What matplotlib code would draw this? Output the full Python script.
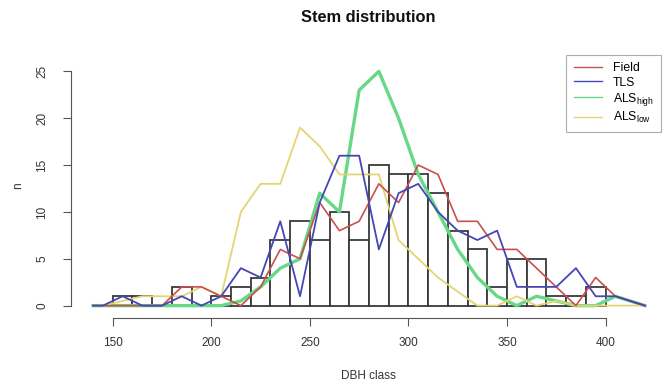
import numpy as np
import matplotlib.pyplot as plt

plt.rcParams['font.family'] = ['Liberation Sans', 'DejaVu Sans']
plt.rcParams['mathtext.fontset'] = 'custom'
plt.rcParams['mathtext.rm'] = 'Liberation Sans'

# histogram of stems, 10 cm DBH classes
bin_left = [150, 160, 170, 180, 190, 200, 210, 220, 230, 240, 250, 260, 270,
            280, 290, 300, 310, 320, 330, 340, 350, 360, 370, 380, 390]
stem_counts = [1, 1, 0, 2, 0, 1, 2, 3, 7, 9, 7, 10, 7,
               15, 14, 14, 12, 8, 6, 2, 5, 5, 1, 1, 2]

# class mid points for the frequency lines (ends closed at 140 / 420)
dbh_mid = [140, 145, 155, 165, 175, 185, 195, 205, 215, 225, 235, 245, 255, 265, 275,
           285, 295, 305, 315, 325, 335, 345, 355, 365, 375, 385, 395, 405, 420]
field = [0, 0, 0, 0, 0, 2, 2, 1, 0, 2, 6, 5, 11, 8, 9,
         13, 11, 15, 14, 9, 9, 6, 6, 4, 2, 0, 3, 1, 0]
tls = [0, 0, 1, 0, 0, 1, 0, 1, 4, 3, 9, 1, 11, 16, 16,
       6, 12, 13, 10, 8, 7, 8, 2, 2, 2, 4, 1, 1, 0]
als_high = [0, 0, 0, 0, 0, 0, 0, 0, 0.5, 2, 4, 5, 12, 10, 23,
            25, 20, 14, 10, 6, 3, 1, 0, 1, 0.5, 0, 0, 1, 0]
als_low = [0, 0, 0.5, 1, 1, 1, 2, 1, 10, 13, 13, 19, 17, 14, 14,
           14, 7, 5, 3, 1.5, 0, 0, 1, 0, 0.5, 0, 0, 0, 0]


def main():
    W, H = 663, 384
    fig = plt.figure(figsize=(W / 100, H / 100), dpi=100)
    # plot region in pixels: x 71..667 (runs just past the right edge), y 62..315
    ax = fig.add_axes([71 / W, 1 - 315 / H, (667 - 71) / W, (315 - 62) / H])
    ax.set_xlim(128.8, 431.2)
    ax.set_ylim(-1, 26)

    ax.bar(bin_left, stem_counts, width=10, align='edge', color='white',
           edgecolor='#3a3a3a', linewidth=1.3, zorder=1)

    ax.plot(dbh_mid, field, color='#c8504e', lw=1.2, label='Field', zorder=3)
    ax.plot(dbh_mid, tls, color='#4646b4', lw=1.3, label='TLS', zorder=3)
    ax.plot(dbh_mid, als_high, color='#66d886', lw=2.4, label='ALS$_{\\mathregular{high}}$', zorder=2)
    ax.plot(dbh_mid, als_low, color='#e4d474', lw=1.3, label='ALS$_{\\mathregular{low}}$', zorder=2)

    for s in ['top', 'right']:
        ax.spines[s].set_visible(False)
    ax.spines['bottom'].set_bounds(150, 400)
    ax.spines['left'].set_bounds(0, 25)
    ax.spines['bottom'].set_position(('outward', 2))
    for s in ['bottom', 'left']:
        ax.spines[s].set_color('#555555')
        ax.spines[s].set_linewidth(0.8)

    ax.set_xticks([150, 200, 250, 300, 350, 400])
    ax.set_yticks([0, 5, 10, 15, 20, 25])
    ax.tick_params(axis='both', colors='#555555', length=5.5, width=0.8,
                   labelsize=8.5, labelcolor='#333333')
    ax.tick_params(axis='x', pad=8)
    ax.tick_params(axis='y', pad=11, labelrotation=90)
    for lab in ax.get_yticklabels():
        lab.set_verticalalignment('center')

    fig.text(368 / W, 1 - 18 / H, 'Stem distribution', ha='center', va='center',
             fontsize=11.8, fontweight='bold', color='#111111')
    fig.text(368 / W, 1 - 376 / H, 'DBH class', ha='center', va='center',
             fontsize=8.5, color='#333333')
    fig.text(18 / W, 1 - 186 / H, 'n', ha='center', va='center', rotation=90,
             fontsize=8.5, color='#333333')

    leg = ax.legend(loc='upper right', bbox_to_anchor=(661 / W, 1 - 55 / H),
                    bbox_transform=fig.transFigure, frameon=True, fancybox=False,
                    fontsize=8.8, handlelength=2.3, handletextpad=0.9,
                    labelspacing=0.18, borderpad=0.6, borderaxespad=0)
    leg.get_frame().set_edgecolor('#999999')
    leg.get_frame().set_linewidth(0.8)
    for line in leg.get_lines():
        line.set_linewidth(1.0)

    fig.savefig('out.png', dpi=100)


if __name__ == '__main__':
    main()
